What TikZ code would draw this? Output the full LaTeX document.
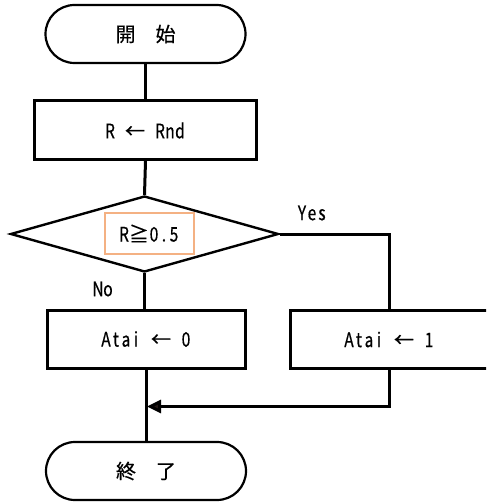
\documentclass[tikz,border=0pt]{standalone}
\usepackage{fontspec}
\setmainfont{Noto Sans CJK JP}
\newfontfamily\latn[FakeStretch=0.78,FakeBold=0.5]{Noto Sans CJK JP}
\newfontfamily\fullw[FakeBold=0.5]{Noto Sans CJK JP}
\usetikzlibrary{shapes.geometric,arrows.meta}
\definecolor{boxorange}{HTML}{F4B183}
\definecolor{arrowdark}{HTML}{231815}
\newcommand{\hc}[1]{\makebox[10pt]{\latn #1}}
\newcommand{\fc}[1]{\makebox[20pt]{\fullw #1}}
\tikzset{
  txt/.style={font=\fontsize{20}{22}\selectfont},
  term/.style={draw, line width=2.2pt, minimum width=200pt, minimum height=58pt, rounded corners=29pt, inner sep=0pt, txt},
  proc/.style={draw, line width=3pt, minimum width=222pt, minimum height=59pt, inner sep=0pt, txt},
  proc2/.style={draw, line width=3pt, minimum width=198pt, minimum height=58pt, inner sep=0pt, txt},
  dec/.style={draw, diamond, line width=2.4pt, minimum width=268pt, minimum height=76pt, inner sep=0pt, aspect=3.5},
  cond/.style={draw=boxorange, line width=2pt, minimum width=89pt, minimum height=40pt, inner sep=0pt, txt},
  conn/.style={line width=3pt},
  lbl/.style={txt, inner sep=0pt}
}
\begin{document}
\begin{tikzpicture}[x=1pt,y=-1pt]
\useasboundingbox (0,0) rectangle (486,502);
\clip (0,0) rectangle (486,502);
\node[term] (start) at (145.5,34) {\fc{開}\fc{　}\fc{始}};
\node[proc] (rnd) at (145.5,130) {};
\node[txt, inner sep=0pt] (rndt) at (145,130.5) {\hc{R}\hc{}\fc{←}\hc{}\hc{R}\hc{n}\hc{d}};
\node[dec] (dec) at (144.5,234) {};
\node[cond] (cnd) at (149,233.5) {\hc{R}\fc{≧}\hc{0}\hc{.}\hc{5}};
\node[proc2] (a0) at (146,339) {\hc{A}\hc{t}\hc{a}\hc{i}\hc{}\fc{←}\hc{}\hc{0}};
\node[proc2] (a1) at (389,339.5) {\hc{A}\hc{t}\hc{a}\hc{i}\hc{}\fc{←}\hc{}\hc{1}};
\node[term] (end) at (146,471) {\fc{終}\fc{　}\fc{了}};
\node[lbl] (yes) at (312,213) {\hc{Y}\hc{e}\hc{s}};
\node[lbl] (no) at (103,289) {\hc{N}\hc{o}};
\coordinate (m) at (147,406.5);
\draw[conn] (start.south) -- (rnd.north);
\draw[conn] (rnd.south) -- (dec.north);
\draw[conn] (dec.south) -- (dec.south |- a0.north);
\draw[conn] (dec.east) -| (a1.north);
\draw[conn] (a0.south) -- (a0.south |- end.north);
\draw[conn, -{Triangle[length=14pt,width=13pt,fill=arrowdark]}] (a1.south) |- (m);
\end{tikzpicture}
\end{document}
